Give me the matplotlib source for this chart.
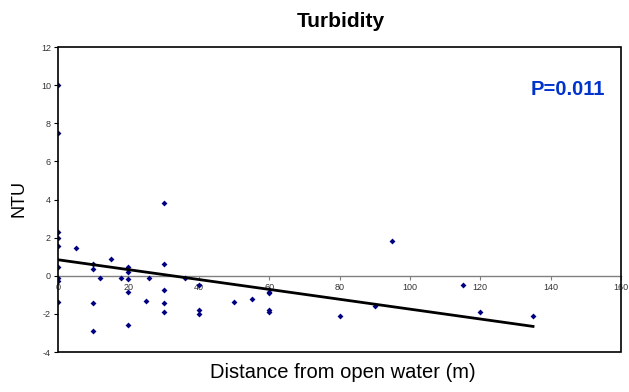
import numpy as np
import matplotlib
matplotlib.use("Agg")
import matplotlib.pyplot as plt
from matplotlib.patches import Rectangle

plt.rcParams['font.family'] = ['Liberation Sans', 'DejaVu Sans']
plt.rcParams['axes.unicode_minus'] = False

# Distance from open water (m) and turbidity (NTU)
distance = [0, 0, 0, 0, 0, 0, 0, 0, 0,
            5,
            10, 10, 10, 10,
            12, 15, 18,
            20, 20, 20, 20, 20,
            25, 26,
            30, 30, 30, 30, 30,
            36,
            40, 40, 40,
            50, 55,
            60, 60, 60, 60,
            80, 90, 95, 115, 120, 135]
ntu = [10.0, 7.5, 2.28, 2.0, 1.58, 0.44, -0.1, -0.28, -1.4,
       1.47,
       0.6, 0.35, -1.45, -2.9,
       -0.1, 0.86, -0.1,
       0.45, 0.2, -0.15, -0.85, -2.6,
       -1.3, -0.1,
       3.8, 0.6, -0.75, -1.45, -1.9,
       -0.1,
       -0.5, -1.8, -2.0,
       -1.35, -1.2,
       -0.85, -0.9, -1.8, -1.9,
       -2.1, -1.6, 1.82, -0.5, -1.9, -2.1]

# Linear trend line
trend_intercept = 0.84
trend_slope = -0.0259
trend_x = [0, 135]

p_label = "P=0.011"

fig = plt.figure(figsize=(6.29, 3.92), dpi=100)
ax = fig.add_axes([0.0922, 0.102, 0.8951, 0.778])

ax.scatter(distance, ntu, marker='D', s=9, color='#000080', zorder=3, linewidths=0)
tx = np.array(trend_x, dtype=float)
ax.plot(tx, trend_intercept + trend_slope * tx, color='black', lw=2.0, zorder=4)

ax.set_xlim(0, 160)
ax.set_ylim(-4, 12)
ax.set_xticks(np.arange(0, 161, 20))
ax.set_yticks(np.arange(-4, 13, 2))

for s in ['top', 'right', 'left']:
    ax.spines[s].set_visible(False)
ax.spines['bottom'].set_position(('data', 0))
ax.spines['bottom'].set_color('#808080')
ax.spines['bottom'].set_linewidth(1.0)

ax.add_patch(Rectangle((0, 0), 1, 1, transform=ax.transAxes, fill=False,
                       ec='black', lw=1.2, clip_on=False, zorder=5))

ax.tick_params(axis='x', direction='out', length=3, width=0.8, color='#808080',
               labelsize=6.5, labelcolor='#333333', pad=2)
ax.tick_params(axis='y', direction='out', length=3, width=0.8, color='black',
               labelsize=6.5, labelcolor='#333333', pad=2)

fig.text(0.542, 0.944, "Turbidity", ha='center', va='center',
         fontsize=15, fontweight='bold')
fig.text(0.545, 0.05, "Distance from open water (m)", ha='center', va='center',
         fontsize=14.5)
fig.text(0.030, 0.494, "NTU", ha='center', va='center', rotation=90, fontsize=13)
ax.text(0.905, 0.843, p_label, transform=ax.transAxes, ha='center', va='baseline',
        fontsize=14.5, fontweight='bold', color='#0033CC')

fig.savefig("out.png", dpi=100)
